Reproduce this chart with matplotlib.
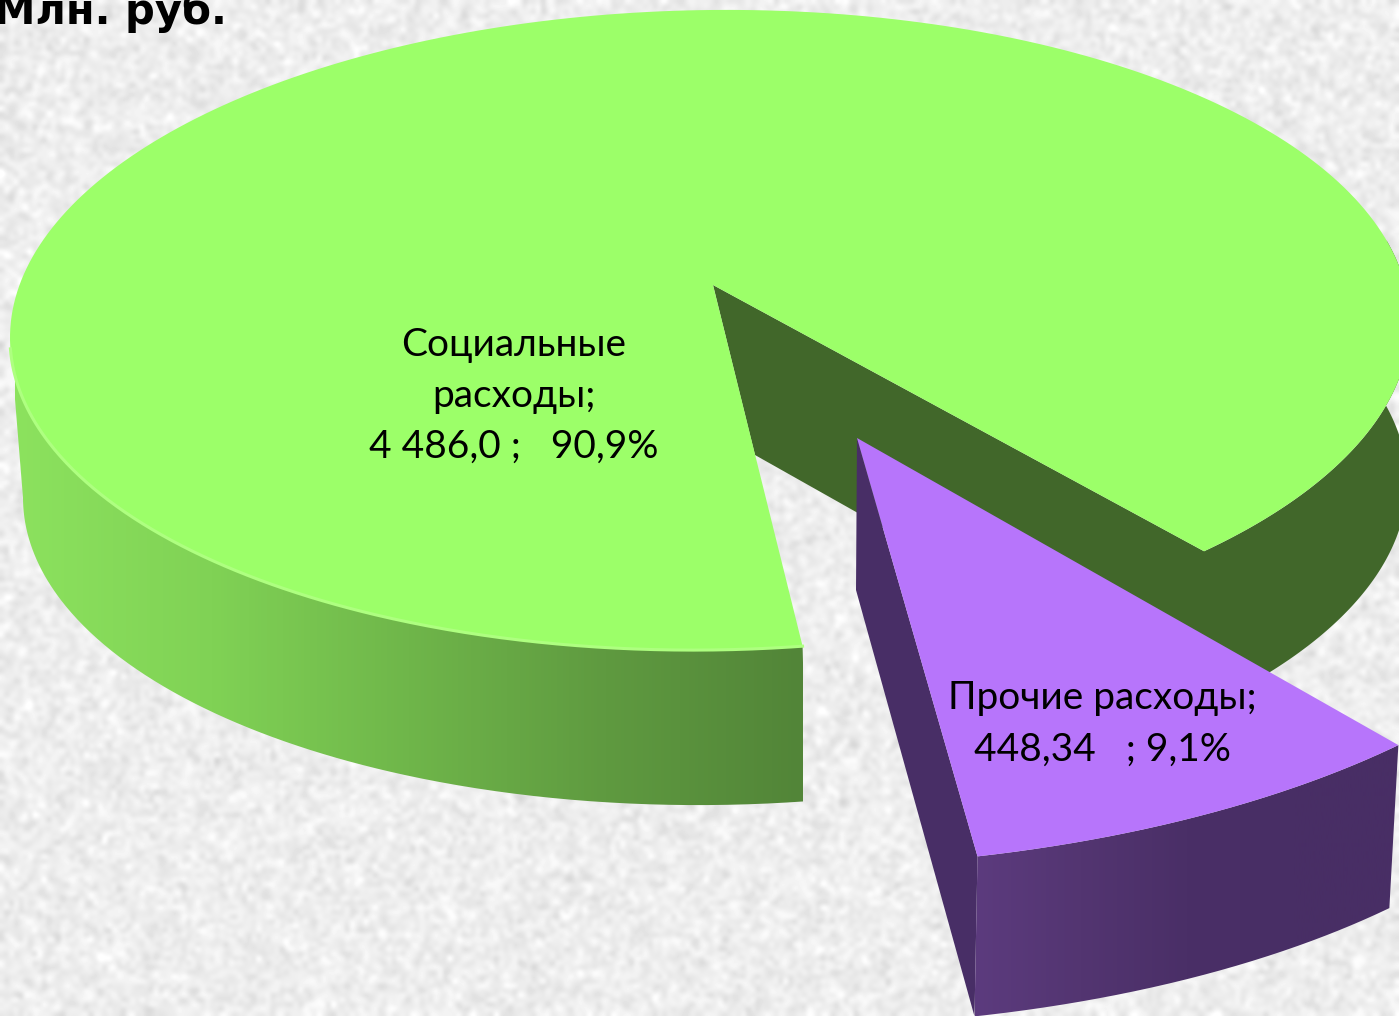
import numpy as np
import matplotlib
matplotlib.use("Agg")
import matplotlib.pyplot as plt
from matplotlib.colors import LinearSegmentedColormap
from matplotlib.patches import PathPatch, Polygon
from matplotlib.path import Path

plt.rcParams['font.family'] = ['Lato', 'Noto Sans', 'DejaVu Sans']

title = "Млн. руб."
categories = ["Социальные\nрасходы;", "Прочие расходы;"]
values = [4486.0, 448.34]
value_labels = ["4 486,0 ;   90,9%", "448,34   ; 9,1%"]

W, H = 1399, 1016
fracs = np.array(values) / sum(values)
squash = 0.986  # perspective eats a little of the sweep


def rim(cx, cy, a, b, t1, t2, tilt=0.0, n=300):
    t = np.radians(np.linspace(t1, t2, n))
    x = cx + a * np.cos(t)
    y = cy - b * np.sin(t) + tilt * a * np.cos(t)
    return np.column_stack([x, y])


def gradient(ax, verts, xr, cols):
    cm = LinearSegmentedColormap.from_list("w", cols)
    im = ax.imshow(np.linspace(0, 1, 256).reshape(1, -1), cmap=cm, aspect='auto',
                   extent=[xr[0], xr[1], H, 0], zorder=ax.zo)
    im.set_clip_path(PathPatch(Path(verts), transform=ax.transData))


fig = plt.figure(figsize=(W / 100, H / 100), dpi=100)
ax = fig.add_axes([0, 0, 1, 1])

# paper texture behind the chart
rng = np.random.default_rng(3)
tex = 0.93 + 0.04 * rng.standard_normal((220, 300))
ax.imshow(tex, cmap='gray', vmin=0, vmax=1, extent=[0, W, H, 0], aspect='auto',
          interpolation='bicubic', zorder=0)

# big slice
gx, gy, ga, gb, tilt = 710, 330, 700, 320, -0.011
t0 = -82.4
t_end = t0 - 360 * fracs[0] * squash
apex = (713, 285)
top_rim = rim(gx, gy, ga, gb, t0, t_end, tilt)
bx, by, ba, bb = 715, 490, 692, 315

# dark cut face and far wall
far_top = rim(gx, gy, ga, gb, t_end, t_end + 60, tilt)
far_bot = rim(bx, by, ba, bb, t_end + 60, t_end, tilt)
dark = np.vstack([[apex], far_top, far_bot, [(755, 455)]])
ax.add_patch(Polygon(dark, closed=True, fc='#41672a', ec='none', zorder=1))

# front wall with gradient
wall = np.vstack([rim(gx, gy, ga, gb, -180, t0, tilt), rim(bx, by, ba, bb, t0, -180, tilt)])
ax.zo = 2
gradient(ax, wall, (15, 803), ['#8ce25e', '#80d255', '#6fb64a', '#5f9a40', '#528538'])

ax.add_patch(Polygon(np.vstack([[apex], top_rim]), closed=True, fc='#9cff69', ec='none', zorder=3))
front = rim(gx, gy, ga, gb, -178, t0, tilt)
ax.plot(front[:, 0], front[:, 1], color='#aeff80', lw=2.2, zorder=3.5)

# small slice, pulled out
px, py, pa, pb = 768, 477, 866, 391
t_p = -76
p_rim = rim(px, py, pa, pb, t_p, t_p + 360 * fracs[1], 0)
p_apex = (857, 438)
p_low = p_rim + np.linspace([-3, 160], [-9, 163], len(p_rim))
side = [p_apex, tuple(p_rim[0]), tuple(p_low[0]), (856, 590)]
ax.add_patch(Polygon(side, closed=True, fc='#482e66', ec='none', zorder=4))
ax.zo = 4
gradient(ax, np.vstack([p_rim, p_low[::-1]]), (975, 1399),
         ['#5c3b7e', '#533571', '#4a2f67', '#482e65', '#482e65'])
ax.add_patch(Polygon(np.vstack([[p_apex], p_rim]), closed=True, fc='#b775fb', ec='none', zorder=5))

ax.text(514, 396, categories[0] + "\n" + value_labels[0], ha='center', va='center',
        fontsize=28, linespacing=1.52, color='black', zorder=6)
ax.text(1102, 724, categories[1] + "\n" + value_labels[1], ha='center', va='center',
        fontsize=28, linespacing=1.52, color='black', zorder=6)
ax.text(-6, 24, title, ha='left', va='baseline', fontsize=30, fontweight='bold',
        family='DejaVu Sans', color='black', zorder=6)

ax.set_xlim(0, W)
ax.set_ylim(H, 0)
ax.axis('off')
fig.savefig("out.png", dpi=100)
